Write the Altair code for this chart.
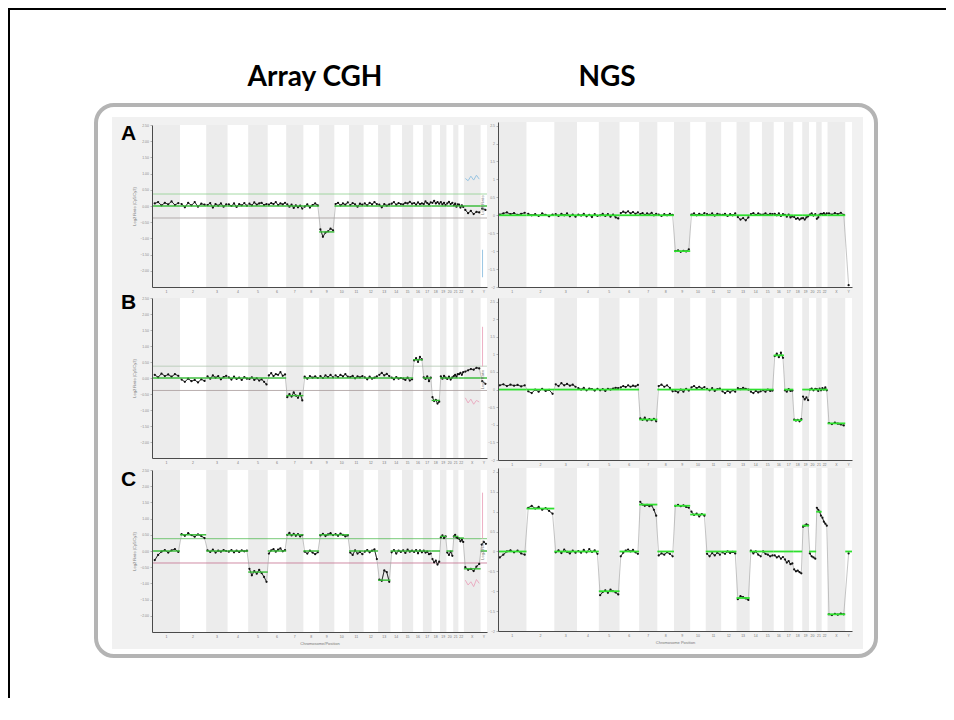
import altair as alt
import pandas as pd

W, H = 938, 690

CHROMS = ['1', '2', '3', '4', '5', '6', '7', '8', '9', '10', '11', '12', '13', '14', '15',
          '16', '17', '18', '19', '20', '21', '22', 'X', 'Y']
CHROM_LEN = [249, 243, 198, 191, 181, 171, 159, 146, 141, 136, 135, 134, 115, 107, 103,
             90, 81, 78, 59, 63, 48, 51, 155, 59]

# ---------------- Array CGH, sample A ----------------
ARR_A_LEVEL = [0, 0, 0, 0, 0, 0, 0, 0, -0.8, 0, 0, 0, 0, 0, 0, 0, 0, 0, 0, 0, 0, 0, 0, 0]
ARR_A_TRACE = [
    [0.08, 0.12, 0.02, 0.10, 0.05, 0.14, 0.03, 0.09],
    [0.06, -0.04, 0.10, 0.02, 0.12, -0.02, 0.07, 0.04],
    [0.03, 0.09, -0.05, 0.06, 0.01, 0.08, -0.02, 0.05],
    [0.05, 0.00, 0.08, -0.03, 0.06, 0.02, 0.09, 0.01],
    [0.07, 0.02, 0.11, 0.04, 0.08, 0.10, 0.03, 0.06],
    [0.04, 0.09, 0.06, 0.12, 0.03, 0.08, 0.05, 0.10],
    [0.05, -0.02, 0.04, -0.06, 0.02, -0.04, 0.01, -0.08],
    [-0.02, 0.05, -0.05, 0.03, 0.08, 0.02],
    [-0.72, -0.95, -0.82, -0.78, -0.70, -0.75],
    [0.06, 0.10, 0.02, 0.08, 0.04, 0.11],
    [0.03, 0.09, 0.05, -0.02, 0.07, 0.04],
    [0.08, 0.02, 0.10, 0.05, 0.12, 0.06],
    [0.04, -0.04, 0.06, 0.01, 0.05],
    [0.07, 0.12, 0.04, 0.09, 0.06],
    [0.05, 0.10, 0.08, 0.13, 0.07],
    [0.09, 0.04, 0.11, 0.06, 0.08],
    [0.06, 0.14, 0.09, 0.05, 0.11],
    [0.10, 0.16, 0.08, 0.12, 0.07],
    [0.12, 0.05, 0.10, 0.03],
    [0.08, 0.13, 0.06, 0.10],
    [0.02, 0.07, -0.02, 0.05],
    [0.04, -0.05, 0.02, -0.03],
    [-0.12, -0.22, -0.15, -0.25, -0.18, -0.20],
    [-0.08, -0.12],
]
ARR_A_REF_X = [0.85, 0.78, 0.92, 0.80, 0.95, 0.83]
ARR_A_REF_Y = [-1.35, -2.2]

# ---------------- Array CGH, sample B ----------------
ARR_B_LEVEL = [0, 0, 0, 0, 0, 0, -0.55, 0, 0, 0, 0, 0, 0, 0, 0, 0.57, 0, -0.7, 0, 0, 0, 0, 0, 0]
ARR_B_TRACE = [
    [0.10, 0.02, 0.14, 0.06, 0.11, 0.04, 0.12, 0.07],
    [-0.05, -0.12, -0.02, -0.10, -0.06, -0.14, -0.04, -0.09],
    [0.05, -0.02, 0.08, 0.01, 0.06, -0.04, 0.03, 0.07],
    [0.02, -0.05, 0.04, -0.03, 0.01, -0.06, 0.03, -0.02],
    [-0.03, 0.02, -0.06, -0.01, -0.08, -0.04, -0.12, -0.20],
    [0.08, 0.15, 0.06, 0.12, 0.10, 0.18, 0.07, 0.11],
    [-0.60, -0.50, -0.58, -0.45, -0.55, -0.62, -0.48, -0.70],
    [0.04, -0.02, 0.06, 0.01, 0.05, 0.00],
    [0.06, 0.00, 0.08, 0.03, 0.10, 0.02],
    [0.08, 0.03, 0.10, 0.05, 0.12, 0.04],
    [0.03, 0.07, -0.01, 0.05, 0.02, 0.06],
    [0.02, -0.04, 0.04, -0.02, 0.01, 0.05],
    [0.10, 0.16, 0.08, 0.13, 0.06],
    [0.01, -0.04, 0.03, -0.02, 0.00],
    [-0.02, -0.06, 0.01, -0.08, -0.04],
    [0.55, 0.62, 0.50, 0.66, 0.58],
    [0.02, -0.03, 0.05, -0.10, 0.01],
    [-0.60, -0.72, -0.68, -0.80, -0.74],
    [0.05, -0.02, 0.07, 0.01],
    [-0.03, 0.04, -0.05, 0.02],
    [0.06, 0.10, 0.04, 0.12],
    [0.12, 0.16, 0.10, 0.18],
    [0.20, 0.24, 0.28, 0.26, 0.32, 0.30],
    [-0.10, -0.18],
]
ARR_B_REF_X = [-0.62, -0.78, -0.66, -0.82, -0.70, -0.75]
ARR_B_REF_Y = [0.36, 1.6]

# ---------------- Array CGH, sample C ----------------
ARR_C_LEVEL = [0, 0.5, 0, 0, -0.65, 0, 0.5, 0, 0.5, 0.5, 0, 0, -0.9, 0, 0, 0, 0, 0, 0.45, 0, 0.45, 0.4, -0.55, 0]
ARR_C_TRACE = [
    [-0.28, -0.12, -0.02, 0.03, -0.05, 0.02, 0.06, -0.03],
    [0.52, 0.47, 0.55, 0.49, 0.44, 0.51, 0.46, 0.40],
    [0.02, -0.03, 0.04, -0.05, 0.01, -0.02, 0.03, 0.00],
    [-0.02, 0.03, -0.04, 0.01, -0.03, 0.02, -0.01, 0.01],
    [-0.55, -0.75, -0.62, -0.70, -0.58, -0.68, -0.80, -0.95],
    [-0.08, 0.02, 0.06, -0.02, 0.04, 0.08, -0.01, 0.03],
    [0.50, 0.56, 0.48, 0.53, 0.47, 0.52, 0.45, 0.49],
    [-0.02, -0.08, 0.01, -0.05, -0.10, -0.04],
    [0.48, 0.53, 0.46, 0.51, 0.55, 0.49],
    [0.52, 0.47, 0.54, 0.50, 0.45, 0.48],
    [-0.05, -0.12, 0.02, -0.08, -0.03, -0.10],
    [-0.02, 0.03, -0.04, 0.01, 0.05, -0.25],
    [-0.88, -0.92, -0.60, -0.65, -0.95],
    [-0.04, 0.03, -0.08, 0.01, -0.03],
    [0.02, -0.06, 0.04, -0.02, 0.01],
    [-0.03, 0.03, -0.07, 0.02, -0.04],
    [0.01, -0.05, -0.02, -0.10, -0.08],
    [-0.25, -0.35, -0.30, -0.42, -0.33],
    [0.42, 0.48, 0.40, 0.45],
    [-0.05, -0.12, -0.02, -0.15],
    [0.45, 0.50, 0.42, 0.40],
    [0.38, 0.30, 0.35, 0.28],
    [-0.50, -0.58, -0.55, -0.62, -0.48, -0.40],
    [0.20, 0.28, 0.22],
]
ARR_C_REF_X = [-0.90, -1.05, -0.95, -1.10, -0.88, -1.00]
ARR_C_REF_Y = [0.38, 1.8]

# ---------------- NGS, sample A ----------------
NGS_A_LEVEL = [0, 0, 0, 0, 0, 0, 0, 0, -1.0, 0, 0, 0, 0, 0, 0, 0, 0, 0, 0, 0, 0, 0, 0, None]
NGS_A_TRACE = [
    [0.02, 0.05, 0.08, 0.03, 0.06, 0.01, 0.04, 0.07],
    [0.04, 0.00, 0.03, -0.02, 0.05, 0.01, -0.03, 0.02],
    [0.03, -0.02, 0.04, 0.00, 0.05, -0.03, 0.02, -0.04],
    [0.02, -0.01, 0.04, -0.03, 0.01, -0.05, 0.03, -0.02],
    [0.00, 0.04, -0.02, 0.03, -0.04, 0.02, -0.06, -0.09],
    [0.06, 0.10, 0.07, 0.11, 0.05, 0.09, 0.04, 0.08],
    [0.03, 0.06, 0.01, 0.05, 0.02, 0.07, 0.00, 0.04],
    [0.02, -0.02, 0.03, 0.00, 0.04, 0.01],
    [-1.00, -0.98, -1.02, -0.99, -1.01, -0.95],
    [0.02, 0.05, 0.00, 0.04, 0.01, 0.06],
    [0.03, 0.01, 0.05, -0.01, 0.04, 0.02],
    [0.01, 0.04, -0.02, 0.03, 0.00, 0.05],
    [-0.05, -0.12, -0.08, -0.14, -0.06],
    [0.03, 0.06, 0.01, 0.05, 0.02],
    [0.02, 0.05, 0.01, 0.04, 0.03],
    [0.04, 0.00, 0.05, -0.02, 0.03],
    [0.01, -0.04, 0.02, -0.06, -0.03],
    [-0.05, -0.10, -0.08, -0.12, -0.09],
    [-0.08, -0.12, -0.06, -0.03],
    [0.02, 0.05, -0.01, 0.03],
    [-0.10, -0.06, 0.02, 0.04],
    [0.03, 0.06, 0.02, 0.05],
    [0.05, 0.02, 0.06, 0.03, 0.07, 0.01],
    [-1.95],
]

# ---------------- NGS, sample B ----------------
NGS_B_LEVEL = [0, 0, 0, 0, 0, 0, -0.85, 0, 0, 0, 0, 0, 0, 0, 0, 0.97, 0, -0.87, 0, 0, 0, 0, -0.96, None]
NGS_B_TRACE = [
    [0.12, 0.15, 0.10, 0.14, 0.11, 0.13, 0.09, 0.12],
    [-0.05, -0.10, 0.00, -0.06, 0.02, -0.04, -0.01, -0.12],
    [0.15, 0.10, 0.18, 0.12, 0.16, 0.11, 0.14, 0.08],
    [0.04, 0.00, 0.05, -0.02, 0.03, 0.01, -0.03, 0.02],
    [-0.02, 0.01, -0.04, 0.02, 0.00, 0.03, 0.05, 0.04],
    [0.06, 0.10, 0.07, 0.12, 0.08, 0.11, 0.09, 0.13],
    [-0.82, -0.86, -0.80, -0.88, -0.84, -0.87, -0.83, -0.90],
    [0.10, 0.14, 0.08, 0.12, 0.05, -0.05],
    [-0.04, -0.08, 0.00, -0.06, 0.02, -0.03],
    [0.06, 0.10, 0.04, 0.08, 0.03, 0.07],
    [0.02, -0.02, 0.04, -0.04, 0.01, 0.03],
    [-0.05, -0.10, -0.04, -0.08, -0.02, -0.06],
    [0.04, 0.01, 0.05, 0.02, 0.00],
    [-0.06, -0.10, -0.04, -0.08, -0.05],
    [-0.02, -0.06, 0.00, -0.04, -0.03],
    [0.95, 1.02, 0.92, 1.05, 0.90],
    [-0.02, -0.06, 0.01, -0.04, -0.03],
    [-0.85, -0.88, -0.86, -0.90, -0.84],
    [-0.20, -0.28, -0.22, -0.30],
    [0.00, 0.03, -0.02, 0.02],
    [0.01, -0.04, 0.03, -0.02],
    [0.04, 0.00, 0.06, -0.02],
    [-0.95, -0.98, -0.94, -0.97, -0.99, -1.02],
    [],
]

# ---------------- NGS, sample C ----------------
NGS_C_LEVEL = [0, 1.08, 0, 0, -1.0, 0, 1.18, 0, 1.15, 0.93, 0, 0, -1.17, 0, 0, 0, 0, 0, 0.65, 0, 1.0, None, -1.58, 0]
NGS_C_TRACE = [
    [-0.15, -0.08, 0.00, 0.03, -0.02, 0.02, -0.05, -0.08],
    [1.10, 1.15, 1.08, 1.12, 1.05, 1.09, 1.02, 0.95],
    [-0.02, 0.03, -0.04, 0.05, -0.01, -0.05, 0.02, -0.03],
    [0.01, -0.03, 0.04, -0.02, 0.06, -0.01, 0.03, -0.06],
    [-1.10, -1.02, -0.98, -1.04, -0.96, -1.00, -1.03, -1.08],
    [-0.12, -0.03, 0.02, 0.05, 0.00, 0.04, -0.02, -0.06],
    [1.25, 1.18, 1.15, 1.17, 1.14, 1.16, 1.05, 0.90],
    [-0.10, -0.05, -0.08, -0.02, -0.06, -0.12],
    [1.15, 1.17, 1.14, 1.16, 1.12, 1.10],
    [1.00, 0.92, 0.95, 0.88, 0.94, 0.90],
    [-0.06, -0.12, -0.04, -0.10, -0.03, -0.08],
    [-0.02, -0.06, 0.00, -0.04, -0.01, -0.05],
    [-1.20, -1.12, -1.15, -1.18, -1.22],
    [0.02, -0.05, 0.00, -0.08, -0.12],
    [0.00, -0.06, -0.08, -0.12, -0.10],
    [-0.10, -0.15, -0.12, -0.18, -0.14],
    [-0.20, -0.28, -0.24, -0.32, -0.30],
    [-0.45, -0.50, -0.48, -0.52, -0.55],
    [0.62, 0.65, 0.68, 0.66],
    [-0.05, -0.12, -0.15, -0.18],
    [1.10, 1.05, 1.00, 0.90],
    [0.85, 0.75, 0.70, 0.65],
    [-1.58, -1.60, -1.57, -1.59, -1.56, -1.58],
    [-0.05],
]

ARR_TICKS = [-2.0, -1.5, -1.0, -0.5, 0.0, 0.5, 1.0, 1.5, 2.0, 2.5]
NGS_TICKS_AB = [-2.0, -1.5, -1.0, -0.5, 0.0, 0.5, 1.0, 1.5, 2.0, 2.5]
NGS_TICKS_C = [-2.0, -1.5, -1.0, -0.5, 0.0, 0.5, 1.0, 1.5, 2.0]

STARTS = []
_acc = 0
for _L in CHROM_LEN:
    STARTS.append(_acc)
    _acc += _L
GENOME = _acc

BAND_GREY = '#ececec'


def panel(trace, level, geom, xdom, ydom, yticks, yfmt, ytitle, xtitle,
          seg_color, seg_width, thr=None, ref=None):
    x0, x1, ytop, ybot = geom
    xs = alt.Scale(domain=xdom, range=[x0, x1], nice=False, zero=False)
    ys = alt.Scale(domain=ydom, range=[ybot, ytop], nice=False, zero=False)
    xkw = dict(orient='bottom', offset=ybot - H, grid=False, ticks=False, labels=False,
               domainColor='#4a4a4a', domainWidth=1, zindex=2)
    if xtitle:
        xkw.update(title=xtitle, titleFontSize=4, titleFontWeight='normal',
                   titleColor='#777777', titlePadding=9, titleFont='Liberation Sans')
    else:
        xkw.update(title='')
    ax = alt.Axis(**xkw)
    ay = alt.Axis(orient='left', offset=-x0, grid=False, values=yticks, format=yfmt,
                  tickSize=2, tickColor='#8a8a8a', tickWidth=0.6,
                  labelFontSize=3.5, labelColor='#8a8a8a', labelPadding=1.5,
                  labelFont='Liberation Sans', zindex=2,
                  domainColor='#4a4a4a', domainWidth=1,
                  title=ytitle, titleFontSize=4, titleFontWeight='normal',
                  titleColor='#777777', titlePadding=3, titleFont='Liberation Sans')

    def X(f):
        return alt.X(f, type='quantitative', scale=xs, axis=ax)

    def Y(f):
        return alt.Y(f, type='quantitative', scale=ys, axis=ay)

    # plot background and chromosome bands
    bands = [{'s': xdom[0], 'e': xdom[1], 'y0': ydom[0], 'y1': ydom[1], 'fill': '#ffffff'}]
    for i, (st, ln) in enumerate(zip(STARTS, CHROM_LEN)):
        if i % 2 == 0:
            bands.append({'s': st, 'e': st + ln, 'y0': ydom[0], 'y1': ydom[1], 'fill': BAND_GREY})
    band_layer = alt.Chart(pd.DataFrame(bands)).mark_rect().encode(
        x=X('s'), x2='e', y=Y('y0'), y2='y1',
        color=alt.Color('fill:N', scale=None))

    # chromosome labels
    lab = pd.DataFrame({'c': [st + ln / 2 for st, ln in zip(STARTS, CHROM_LEN)],
                        'yv': [ydom[0]] * len(CHROMS), 'name': CHROMS})
    lab_layer = alt.Chart(lab).mark_text(fontSize=3.5, color='#777777', baseline='top', dy=3,
                                         font='Liberation Sans').encode(
        x=X('c'), y=Y('yv'), text='name:N')

    rows = []
    for i, vals in enumerate(trace):
        n = len(vals)
        for j, v in enumerate(vals):
            rows.append({'pos': STARTS[i] + (j + 0.5) / n * CHROM_LEN[i], 'val': v, 'chrom': CHROMS[i]})
    tr = pd.DataFrame(rows)
    grey_line = alt.Chart(tr).mark_line(color='#a0a0a0', strokeWidth=0.6).encode(
        x=X('pos'), y=Y('val'))
    blk_line = alt.Chart(tr).mark_line(color='#1e1e1e', strokeWidth=0.9).encode(
        x=X('pos'), y=Y('val'), detail='chrom:N')
    pts = alt.Chart(tr).mark_circle(size=5, color='#111111', opacity=1).encode(
        x=X('pos'), y=Y('val'))

    segs = []
    for i, lv in enumerate(level):
        if lv is None:
            continue
        e = STARTS[i] + CHROM_LEN[i]
        if i == len(level) - 1:
            e = xdom[1]
        segs.append({'s': STARTS[i], 'e': e, 'lv': lv})
    seg_layer = alt.Chart(pd.DataFrame(segs)).mark_rule(
        color=seg_color, strokeWidth=seg_width).encode(x=X('s'), x2='e', y=Y('lv'))

    layers = [band_layer]
    if thr is not None:
        tdf = pd.DataFrame({'s': [xdom[0], xdom[0]], 'e': [xdom[1], xdom[1]],
                            't': [thr[0], thr[1]], 'col': [thr[2], thr[3]]})
        layers.append(alt.Chart(tdf).mark_rule(strokeWidth=0.8).encode(
            x=X('s'), x2='e', y=Y('t'), color=alt.Color('col:N', scale=None)))
    if ref is not None:
        rx, ry, rcol = ref
        rrows = []
        ix, iy = 22, 23
        for j, v in enumerate(rx):
            rrows.append({'pos': STARTS[ix] + (j + 0.5) / len(rx) * CHROM_LEN[ix], 'val': v, 'g': 'x'})
        for v in ry:
            rrows.append({'pos': STARTS[iy] + 0.3 * CHROM_LEN[iy], 'val': v, 'g': 'y'})
        layers.append(alt.Chart(pd.DataFrame(rrows)).mark_line(color=rcol, strokeWidth=0.9).encode(
            x=X('pos'), y=Y('val'), detail='g:N'))
    layers += [grey_line, blk_line, pts, seg_layer, lab_layer]
    return alt.layer(*layers)


# panel geometry in canvas pixels: left, right, top, bottom
ARR_X = (144, 479)
NGS_X = (490, 844)
ARR_XDOM = [-10, GENOME]
NGS_XDOM = [0, GENOME]

pA1 = panel(ARR_A_TRACE, ARR_A_LEVEL, (ARR_X[0], ARR_X[1], 117, 279), ARR_XDOM, [-2.5, 2.5],
            ARR_TICKS, '.2f', 'Log2 Ratio (Cy5/Cy3)', None, '#33bb33', 1.4,
            thr=(0.37, -0.37, '#8fd18f', '#a39a9a'), ref=(ARR_A_REF_X, ARR_A_REF_Y, '#8fbfe0'))
pB1 = panel(ARR_B_TRACE, ARR_B_LEVEL, (ARR_X[0], ARR_X[1], 290, 450), ARR_XDOM, [-2.5, 2.5],
            ARR_TICKS, '.2f', 'Log2 Ratio (Cy5/Cy3)', None, '#33bb33', 1.4,
            thr=(0.37, -0.39, '#b0c8b0', '#a89c9c'), ref=(ARR_B_REF_X, ARR_B_REF_Y, '#eaa6bd'))
pC1 = panel(ARR_C_TRACE, ARR_C_LEVEL, (ARR_X[0], ARR_X[1], 462, 624), ARR_XDOM, [-2.5, 2.5],
            ARR_TICKS, '.2f', 'Log2 Ratio (Cy5/Cy3)', 'Chromosome/Position', '#33bb33', 1.4,
            thr=(0.38, -0.37, '#55bb55', '#c4708e'), ref=(ARR_C_REF_X, ARR_C_REF_Y, '#eaa6bd'))
pA2 = panel(NGS_A_TRACE, NGS_A_LEVEL, (NGS_X[0], NGS_X[1], 114, 279), NGS_XDOM, [-2.0, 2.6],
            NGS_TICKS_AB, '', 'Log2 Ratio', None, '#2fe02f', 1.8)
pB2 = panel(NGS_B_TRACE, NGS_B_LEVEL, (NGS_X[0], NGS_X[1], 290, 452), NGS_XDOM, [-2.0, 2.6],
            NGS_TICKS_AB, '', 'Log2 Ratio', None, '#2fe02f', 1.8)
pC2 = panel(NGS_C_TRACE, NGS_C_LEVEL, (NGS_X[0], NGS_X[1], 460, 623), NGS_XDOM, [-2.0, 2.1],
            NGS_TICKS_C, '', 'Log2 Ratio', 'Chromosome Position', '#2fe02f', 1.8)

one = alt.Data(values=[{}])

frame_top = alt.Chart(one).mark_rule(color='#000000', strokeWidth=2).encode(
    x=alt.value(0), x2=alt.value(W), y=alt.value(1))
frame_left = alt.Chart(one).mark_rule(color='#000000', strokeWidth=2).encode(
    x=alt.value(1), y=alt.value(0), y2=alt.value(H))
box = alt.Chart(one).mark_rect(fill='#ffffff', stroke='#b4b4b4', strokeWidth=4, cornerRadius=18).encode(
    x=alt.value(88), x2=alt.value(868), y=alt.value(97), y2=alt.value(648))
img_bg = alt.Chart(one).mark_rect(fill='#f1f1f1').encode(
    x=alt.value(104), x2=alt.value(855), y=alt.value(109), y2=alt.value(641))

TITLES = ['Array CGH', 'NGS']
title_df = pd.DataFrame({'t': TITLES, 'px': [307, 599]})
titles = alt.Chart(title_df).mark_text(font='Lato', fontWeight='bold', fontSize=28, baseline='alphabetic',
                                       align='center', color='#000000').encode(
    x=alt.X('px:Q', scale=None, axis=None), y=alt.value(78), text='t:N')

LETTERS = ['A', 'B', 'C']
let_df = pd.DataFrame({'t': LETTERS, 'py': [132, 301, 478]})
letters = alt.Chart(let_df).mark_text(font='Liberation Sans', fontWeight='bold', fontSize=21,
                                      baseline='alphabetic', align='left', color='#000000').encode(
    x=alt.value(113), y=alt.Y('py:Q', scale=None, axis=None), text='t:N')

chart = alt.layer(frame_top, frame_left, box, img_bg, titles, letters,
                  pA1, pB1, pC1, pA2, pB2, pC2).resolve_scale(
    x='independent', y='independent', color='independent').resolve_axis(
    x='independent', y='independent').properties(
    width=W, height=H, autosize=alt.AutoSizeParams(type='none'), padding=0,
    background='#ffffff').configure_view(stroke='transparent', strokeWidth=0)

chart.save('out.html', embed_options={'renderer': 'svg', 'actions': False})
